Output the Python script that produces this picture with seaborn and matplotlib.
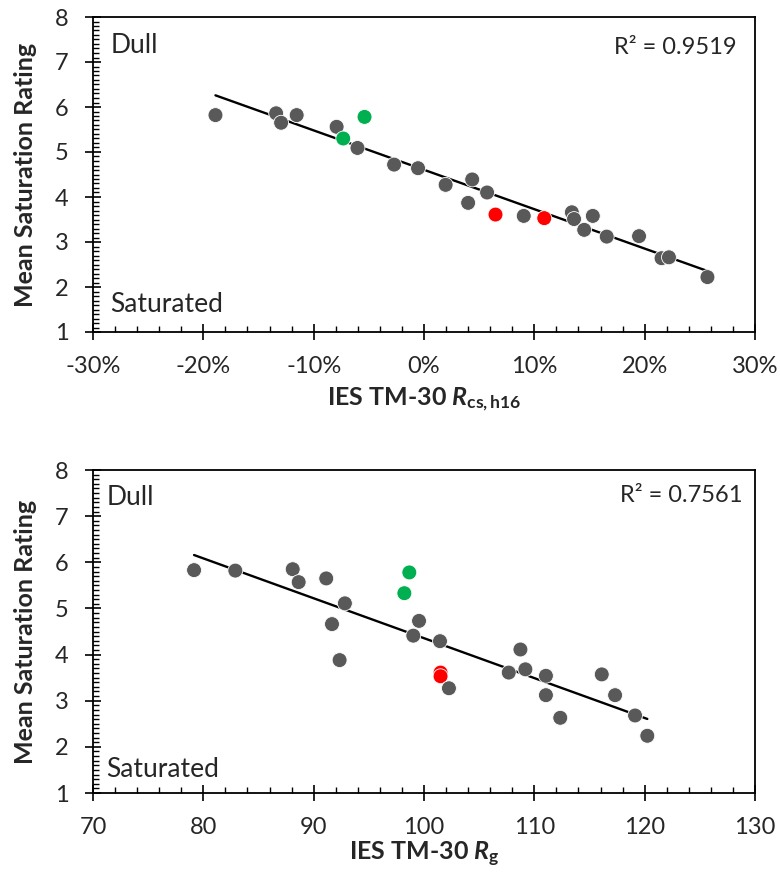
import numpy as np
import pandas as pd
import matplotlib
matplotlib.use("Agg")
import matplotlib.pyplot as plt
from matplotlib.ticker import MultipleLocator, FuncFormatter
import seaborn as sns

# ---- data ----
rating_top = [5.82, 5.86, 5.65, 5.82, 5.56, 5.30, 5.78, 5.09, 4.72, 4.64, 4.27, 4.39, 3.87,
              4.10, 3.61, 3.58, 3.53, 3.66, 3.51, 3.58, 3.27, 3.12, 3.13, 2.64, 2.66, 2.22]
rcs_h16 = [-18.9, -13.4, -12.95, -11.54, -7.92, -7.32, -5.39, -6.03, -2.71, -0.54, 1.96, 4.37, 4.0,
           5.72, 6.48, 9.04, 10.9, 13.4, 13.6, 15.3, 14.52, 16.56, 19.49, 21.53, 22.2, 25.69]
rating_bot = [5.83, 5.85, 5.65, 5.82, 5.57, 5.33, 5.78, 5.11, 4.73, 4.66, 4.29, 4.41, 3.88,
              4.11, 3.61, 3.61, 3.53, 3.68, 3.54, 3.57, 3.27, 3.12, 3.12, 2.63, 2.68, 2.24]
rg = [79.16, 88.1, 91.14, 82.9, 88.64, 98.22, 98.67, 92.83, 99.55, 91.66, 101.45, 99.03, 92.35,
      108.74, 101.5, 107.68, 101.5, 109.19, 111.05, 116.11, 102.26, 111.05, 117.32, 112.35, 119.13, 120.24]
group = ["gray"] * 5 + ["green", "green"] + ["gray"] * 7 + ["red", "gray", "red"] + ["gray"] * 9
r2_top = "0.9519"
r2_bot = "0.7561"
x_ticks_top = [-30, -20, -10, 0, 10, 20, 30]
x_ticks_bot = [70, 80, 90, 100, 110, 120, 130]
y_ticks = [1, 2, 3, 4, 5, 6, 7, 8]

palette = {"gray": "#595959", "green": "#00B050", "red": "#FF0000"}

sns.set_theme(style="white")
plt.rcParams["font.family"] = ["Lato", "DejaVu Sans"]
plt.rcParams["mathtext.fontset"] = "custom"
plt.rcParams["mathtext.it"] = "Lato:bold:italic"
plt.rcParams["mathtext.rm"] = "Lato:bold"

df_top = pd.DataFrame({"x": rcs_h16, "y": rating_top, "g": group})
df_bot = pd.DataFrame({"x": rg, "y": rating_bot, "g": group})

fig = plt.figure(figsize=(7.8, 8.77), dpi=100)
ax1 = fig.add_axes([93/780, 1-332/877, (755-93)/780, (332-17)/877])
ax2 = fig.add_axes([93/780, 1-793/877, (755-93)/780, (793-470)/877])

TICK_FS = 17
LABEL_FS = 18
NOTE_FS = 19
R2_FS = 17

def style(ax, df, xticks, r2, xlabel, fmt, labelpad, hpx, notes):
    sns.regplot(data=df, x="x", y="y", ax=ax, scatter=False, ci=None, truncate=True,
                line_kws={"color": "black", "lw": 1.7}, color="black")
    sns.scatterplot(data=df, x="x", y="y", hue="g", palette=palette, ax=ax, s=115,
                    edgecolor="white", linewidth=0.6, legend=False, zorder=3)
    ax.set_xlim(xticks[0], xticks[-1])
    ax.set_ylim(1, 8)
    ax.set_xticks(xticks)
    ax.set_yticks(y_ticks)
    ax.xaxis.set_minor_locator(MultipleLocator(2))
    ax.yaxis.set_minor_locator(MultipleLocator(0.1))
    ax.xaxis.set_major_formatter(FuncFormatter(fmt))
    ax.tick_params(which="major", direction="inout", length=11, width=1.2, color="black",
                   labelsize=TICK_FS, bottom=True, left=True, pad=12)
    ax.tick_params(which="minor", direction="in", length=4.5, width=1.0, color="black",
                   bottom=True, left=True)
    for sp in ax.spines.values():
        sp.set_color("black")
        sp.set_linewidth(1.3)
    ax.set_xlabel(xlabel, fontsize=LABEL_FS, fontweight="bold", labelpad=labelpad)
    ax.set_ylabel("Mean Saturation Rating", fontsize=LABEL_FS, fontweight="bold")
    ax.yaxis.set_label_coords(-(93 - 37) / 662, 0.5)
    dx, dy, sx, sy, rx, ry = notes
    ax.text(dx, 1 - dy / hpx, "Dull", transform=ax.transAxes, fontsize=NOTE_FS,
            va="top", ha="left")
    ax.text(sx, sy / hpx, "Saturated", transform=ax.transAxes, fontsize=NOTE_FS,
            va="baseline", ha="left")
    ax.text((rx - 93) / 662, 1 - ry / hpx, "R² = " + r2, transform=ax.transAxes,
            fontsize=R2_FS, va="top", ha="right")

style(ax1, df_top, x_ticks_top, r2_top, r"IES TM-30 $\mathit{R}_{\mathrm{cs,h16}}$",
      lambda v, p: f"{v:.0f}%", 6, 315, (0.026, 16, 0.026, 20, 737, 20))
style(ax2, df_bot, x_ticks_bot, r2_bot, r"IES TM-30 $\mathit{R}_{\mathrm{g}}$",
      lambda v, p: f"{v:.0f}", 1, 323, (0.02, 15, 0.02, 16, 743, 15))

fig.savefig("out.png", dpi=100)
